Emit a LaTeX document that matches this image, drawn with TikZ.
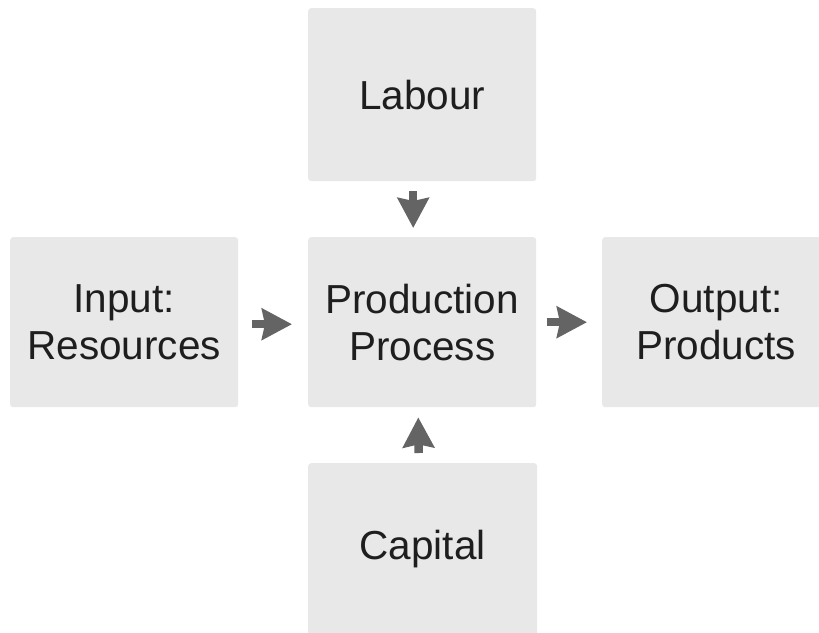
\documentclass[tikz,border=0pt]{standalone}
\usepackage{fontspec}
\setmainfont{Liberation Sans}
\usetikzlibrary{arrows.meta}
\definecolor{boxfill}{HTML}{E8E8E8}
\definecolor{arrowcol}{HTML}{646464}
\definecolor{txtcol}{HTML}{1E1E1E}
\tikzset{
  box/.style={rectangle, rounded corners=3pt, fill=boxfill, draw=none, anchor=north west,
    align=center, text=txtcol, inner sep=0pt,
    font=\fontsize{40.5}{47}\selectfont},
  flow/.style={draw=arrowcol, line width=8.5pt,
    -{Stealth[length=30pt,width=31pt,inset=3pt,fill=arrowcol]}}
}
\begin{document}
\begin{tikzpicture}[x=1pt,y=-1pt]
\useasboundingbox (0,0) rectangle (819,632);
\clip (0,0) rectangle (819,632);
\fill[white] (0,0) rectangle (819,632);
\node[box, minimum width=228pt, minimum height=173pt] (labour) at (308,8) {Labour};
\node[box, minimum width=228pt, minimum height=170pt] (input) at (10,237) {Input:\\Resources};
\node[box, minimum width=228pt, minimum height=170pt] (prod) at (308,237) {Production\\Process};
\node[box, minimum width=228pt, minimum height=170pt] (output) at (602,237) {Output:\\Products};
\node[box, minimum width=229pt, minimum height=172pt] (capital) at (308,463) {Capital};
\draw[flow, shorten <=10pt, shorten >=9pt] ([xshift=-9pt]labour.south) -- ([xshift=-9pt]prod.north);
\draw[flow, shorten <=10pt, shorten >=10pt] ([xshift=-4pt]capital.north) -- ([xshift=-4pt]prod.south);
\draw[flow, shorten <=14pt, shorten >=16pt] ([yshift=-2pt]input.east) -- ([yshift=-2pt]prod.west);
\draw[flow, shorten <=11pt, shorten >=15pt] (prod.east) -- (output.west);
\end{tikzpicture}
\end{document}
